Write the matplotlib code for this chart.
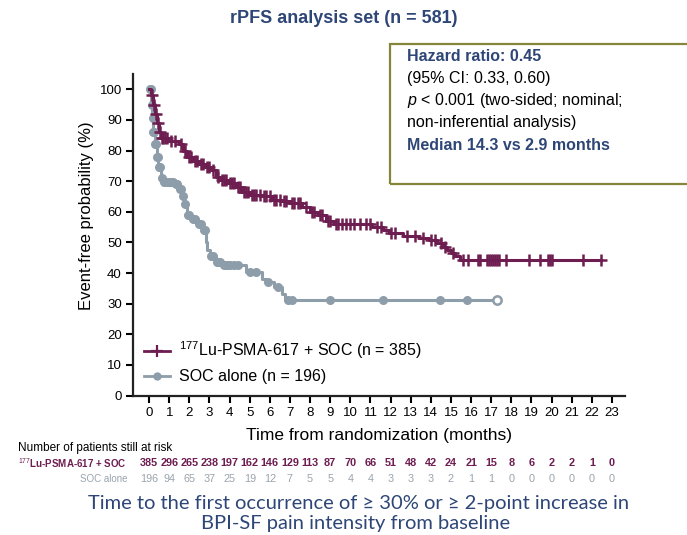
import numpy as np
import matplotlib.pyplot as plt
from matplotlib.lines import Line2D
from matplotlib.patches import Rectangle
from matplotlib.transforms import blended_transform_factory

plt.rcParams['font.family'] = ['Liberation Sans', 'DejaVu Sans']
plt.rcParams['mathtext.fontset'] = 'custom'
plt.rcParams['mathtext.rm'] = 'Liberation Sans'
plt.rcParams['mathtext.it'] = 'Liberation Sans:italic'
plt.rcParams['mathtext.bf'] = 'Liberation Sans:bold'

# Kaplan-Meier steps (months, % event-free)
lu_t = [0, 0.1, 0.2, 0.3, 0.4, 0.5, 0.6, 1.0, 1.5, 1.7, 1.9, 2.2, 2.5, 2.8, 3.1, 3.3, 3.5,
        3.9, 4.3, 4.6, 5.0, 5.6, 6.1, 6.6, 7.0, 7.6, 8.0, 8.4, 8.8, 9.2, 11.1, 11.6, 11.9,
        12.6, 13.4, 13.9, 14.3, 14.6, 14.8, 15.0, 15.2, 15.45]
lu_s = [100, 98, 95, 92, 89, 86, 84, 83, 82, 80, 78, 76.5, 75.5, 74.5, 73.5, 71.5, 70.5,
        69.5, 68, 66.5, 65.5, 65, 64, 63.5, 62.8, 61.5, 60, 59, 57, 56, 55, 54, 53,
        52, 51.5, 50.8, 49.8, 48.5, 47.5, 46.6, 45.5, 44.3]
lu_end = 22.45
lu_cens = [0.15, 0.25, 0.35, 0.45, 0.55, 0.65, 0.7, 0.8, 0.9, 1.1, 1.3, 1.6, 1.8, 2.0, 2.1,
           2.3, 2.4, 2.6, 2.7, 2.9, 3.0, 3.2, 3.4, 3.6, 3.7, 3.8, 4.0, 4.1, 4.2, 4.4, 4.5,
           4.7, 4.8, 4.9, 5.1, 5.2, 5.3, 5.5, 5.7, 5.8, 6.0, 6.2, 6.3, 6.5, 6.7, 6.8, 7.1,
           7.2, 7.4, 7.5, 7.8, 8.1, 8.2, 8.5, 8.6, 8.9, 9.0, 9.3, 9.4, 9.6, 9.8, 10.0, 10.2,
           10.5, 10.8, 11.0, 11.3, 11.5, 12.0, 12.2, 12.8, 13.2, 13.6, 14.0, 14.2, 14.5,
           14.7, 15.1, 15.6, 15.86, 16.35, 16.44, 16.8, 16.9, 17.0, 17.1, 17.2, 17.3, 17.4,
           17.73, 18.9, 19.4, 19.8, 19.9, 20.0, 21.55, 22.45]

soc_t = [0, 0.1, 0.15, 0.2, 0.3, 0.4, 0.45, 0.6, 0.7, 1.3, 1.5, 1.65, 1.75, 1.9, 2.1, 2.4,
         2.7, 2.85, 2.9, 3.05, 3.3, 3.6, 4.8, 5.6, 5.8, 6.2, 6.6, 6.75]
soc_s = [100, 95, 90.5, 86, 82, 78, 74.5, 71, 69.7, 69, 67.5, 65, 62.5, 59, 57.5, 56,
         54, 50, 47.5, 45.5, 43.5, 42.5, 40.5, 38, 37, 35.5, 33, 31.3]
soc_end = 17.3
soc_cens = [0.03, 0.08, 0.12, 0.17, 0.2, 0.25, 0.3, 0.35, 0.4, 0.43, 0.5, 0.55, 0.65, 0.75,
            0.8, 0.9, 1.0, 1.1, 1.2, 1.35, 1.4, 1.55, 1.6, 1.7, 1.8, 1.95, 2.0, 2.2, 2.3,
            2.5, 2.6, 2.75, 2.8, 3.1, 3.2, 3.35, 3.4, 3.5, 3.7, 3.8, 3.9, 4.0, 4.2, 4.4,
            5.0, 5.3, 5.9, 6.4, 6.9, 7.1, 9.0, 11.6, 14.45, 15.8]

risk_months = list(range(24))
lu_risk = [385, 296, 265, 238, 197, 162, 146, 129, 113, 87, 70, 66, 51, 48, 42, 24, 21, 15,
           8, 6, 2, 2, 1, 0]
soc_risk = [196, 94, 65, 37, 25, 19, 12, 7, 5, 5, 4, 4, 3, 3, 3, 2, 1, 1, 0, 0, 0, 0, 0, 0]

purple = '#6d1d50'
grey = '#8d9daa'
blue = '#2e4677'


def at(times, surv, c):
    idx = np.searchsorted(times, c, side='right') - 1
    return np.array(surv)[idx]


fig = plt.figure(figsize=(6.87, 5.35), dpi=100)
ax = fig.add_axes([0.1936, 0.2607, 0.7162, 0.601])

ax.step(np.append(soc_t, soc_end), np.append(soc_s, soc_s[-1]), where='post',
        color=grey, lw=2.2)
ax.plot(soc_cens, at(soc_t, soc_s, soc_cens), 'o', color=grey, ms=6.5, mew=0)
ax.plot([soc_end], at(soc_t, soc_s, [soc_end]), 'o', mfc='white', mec=grey, ms=6, mew=1.8)

ax.step(np.append(lu_t, lu_end), np.append(lu_s, lu_s[-1]), where='post',
        color=purple, lw=2.2)
ax.plot(lu_cens, at(lu_t, lu_s, lu_cens), '+', color=purple, ms=8, mew=1.8)

ax.set_xlim(-0.8, 23.65)
ax.set_ylim(0, 105)
ax.set_xticks(range(24))
ax.set_yticks(range(0, 101, 10))
for s in ['top', 'right']:
    ax.spines[s].set_visible(False)
for s in ['left', 'bottom']:
    ax.spines[s].set_linewidth(1.6)
    ax.spines[s].set_color('#222222')
ax.tick_params(direction='out', length=5, width=1.5, labelsize=9.5, pad=3)
ax.set_xlabel('Time from randomization (months)', fontsize=12.5, labelpad=7)
ax.set_ylabel('Event-free probability (%)', fontsize=12)
ax.yaxis.set_label_coords(-0.079, 0.56)

handles = [Line2D([], [], color=purple, marker='+', ms=9, mew=1.6, lw=2),
           Line2D([], [], color=grey, marker='o', ms=6, mew=0, lw=2)]
ax.legend(handles, ['$^{177}$Lu-PSMA-617 + SOC (n = 385)', 'SOC alone (n = 196)'],
          loc='lower left', bbox_to_anchor=(0.01, 0.015), frameon=False, fontsize=11.5,
          handlelength=1.6, handletextpad=0.6, labelspacing=0.5, borderaxespad=0)

fig.text(0.5, 0.966, 'rPFS analysis set (n = 581)', ha='center', va='center',
         fontsize=13, fontweight='bold', color=blue)

fig.patches.append(Rectangle((390 / 687, 1 - 184 / 535), 0.6, 140 / 535,
                             transform=fig.transFigure, fill=False,
                             edgecolor='#86863a', lw=1.6))
bx = 407 / 687
fig.text(bx, 1 - 57 / 535, 'Hazard ratio: 0.45', fontsize=11.5, fontweight='bold',
         color=blue, va='center')
fig.text(bx, 1 - 79 / 535, '(95% CI: 0.33, 0.60)', fontsize=11.5, va='center')
fig.text(bx, 1 - 101 / 535, '$p$ < 0.001 (two-sided; nominal;', fontsize=11.5, va='center')
fig.text(bx, 1 - 123 / 535, 'non-inferential analysis)', fontsize=11.5, va='center')
fig.text(bx, 1 - 146 / 535, 'Median 14.3 vs 2.9 months', fontsize=11.5, fontweight='bold',
         color=blue, va='center')

tr = blended_transform_factory(ax.transData, fig.transFigure)
fig.text(18 / 687, 1 - 448 / 535, 'Number of patients still at risk', fontsize=8.5,
         va='center')
fig.text(127 / 687, 1 - 463 / 535, '$^{177}$Lu-PSMA-617 + SOC', fontsize=7,
         fontweight='bold', color=purple, ha='right', va='center')
fig.text(127 / 687, 1 - 479 / 535, 'SOC alone', fontsize=7, color='#9aa4ad',
         ha='right', va='center')
for m, a, b in zip(risk_months, lu_risk, soc_risk):
    ax.text(m, 1 - 463 / 535, str(a), transform=tr, fontsize=7.8, fontweight='bold',
            color=purple, ha='center', va='center', clip_on=False)
    ax.text(m, 1 - 479 / 535, str(b), transform=tr, fontsize=7.8, color='#9aa4ad',
            ha='center', va='center', clip_on=False)

fig.text(0.522, 1 - 504 / 535, 'Time to the first occurrence of \u2265 30% or \u2265 2-point increase in',
         fontsize=14.5, color=blue, ha='center', va='center', family=['Lato', 'DejaVu Sans'])
fig.text(0.518, 1 - 523 / 535, 'BPI-SF pain intensity from baseline',
         fontsize=14.5, color=blue, ha='center', va='center', family=['Lato', 'DejaVu Sans'])

fig.savefig('out.png', dpi=100)
